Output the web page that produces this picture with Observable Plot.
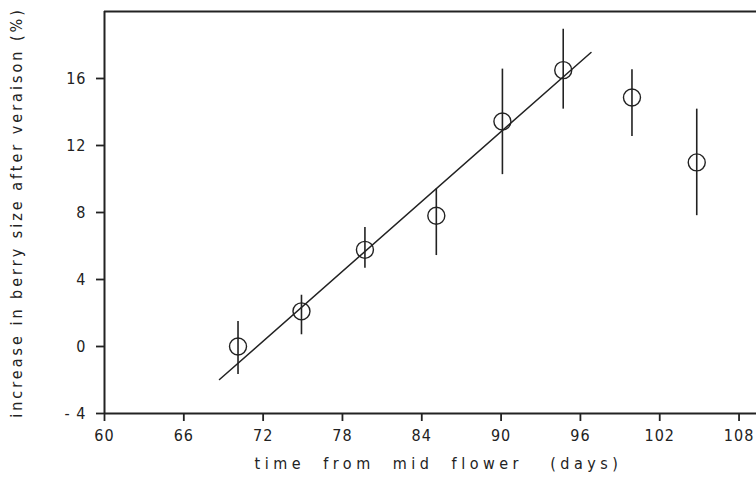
<!DOCTYPE html>
<html>
<head>
<meta charset="utf-8">
<script src="https://cdn.jsdelivr.net/npm/d3@7"></script>
<script src="https://cdn.jsdelivr.net/npm/@observablehq/plot@0.6"></script>
<style>
  html, body { margin: 0; padding: 0; background: #fff; }
  #chart svg { display: block; }
</style>
</head>
<body>
<div id="chart"></div>
<script>
// Data
const days      = [70.1, 74.9, 79.7, 85.1, 90.1, 94.7, 99.9, 104.8];
const increase  = [0.0, 2.1, 5.77, 7.81, 13.43, 16.5, 14.87, 10.99];
const errLow    = [-1.67, 0.70, 4.67, 5.43, 10.26, 14.17, 12.54, 7.81];
const errHigh   = [1.5, 3.06, 7.11, 9.40, 16.56, 18.94, 16.52, 14.17];
const fitDays   = [68.7, 96.8];
const fitValues = [-1.97, 17.55];
const xTicks    = [60, 66, 72, 78, 84, 90, 96, 102, 108];
const yTicks    = [-4, 0, 4, 8, 12, 16];
const xTitle    = "time  from  mid  flower   (days)";
const yTitle    = "increase in berry size after veraison (%)";

const points = days.map((d, i) => ({day: d, value: increase[i], lo: errLow[i], hi: errHigh[i]}));
const fit = fitDays.map((d, i) => ({day: d, value: fitValues[i]}));

const ink = "#222";
const font = "'DejaVu Sans Condensed', 'Liberation Sans Narrow', 'DejaVu Sans', sans-serif";

const plot = Plot.plot({
  width: 756,
  height: 489,
  marginLeft: 104,
  marginRight: 0,
  marginTop: 11,
  marginBottom: 76,
  style: {fontFamily: font, fontSize: "16px", color: ink, background: "#fff", fontStretch: "condensed"},
  x: {domain: [60, 109.32], ticks: xTicks, tickSize: 8, tickPadding: 8, label: null},
  y: {domain: [-4, 20], ticks: yTicks, tickSize: 8, tickPadding: 10, label: null,
      tickFormat: d => d < 0 ? "- " + Math.abs(d) : String(d)},
  marks: [
    Plot.ruleY([20], {stroke: ink, strokeWidth: 1.8}),
    Plot.ruleY([-4], {stroke: ink, strokeWidth: 2}),
    Plot.ruleX([60], {stroke: ink, strokeWidth: 2}),
    Plot.line(fit, {x: "day", y: "value", stroke: ink, strokeWidth: 1.5}),
    Plot.ruleX(points, {x: "day", y1: "lo", y2: "hi", stroke: ink, strokeWidth: 1.6}),
    Plot.dot(points, {x: "day", y: "value", r: 8.5, stroke: ink, fill: "none", strokeWidth: 1.4}),
    Plot.text([xTitle], {frameAnchor: "bottom", textAnchor: "middle", dx: 8, dy: 55, fontSize: 16, fill: ink}),
    Plot.text([yTitle], {frameAnchor: "left", textAnchor: "middle", dx: -88, rotate: -90, fontSize: 16, fill: ink})
  ]
});

const svg = d3.select(plot);
svg.selectAll("g[aria-label='x-axis tick label'] text, g[aria-label='y-axis tick label'] text")
   .style("letter-spacing", "1px");
const titles = svg.selectAll("g[aria-label='text'] text").style("white-space", "pre");
titles.filter((d, i, n) => n[i].textContent === xTitle).style("letter-spacing", "4.5px");
titles.filter((d, i, n) => n[i].textContent === yTitle).style("letter-spacing", "3px");
svg.selectAll("g[aria-label='x-axis tick'], g[aria-label='y-axis tick']").attr("stroke-width", 1.8);
document.getElementById("chart").appendChild(plot);
</script>
</body>
</html>
